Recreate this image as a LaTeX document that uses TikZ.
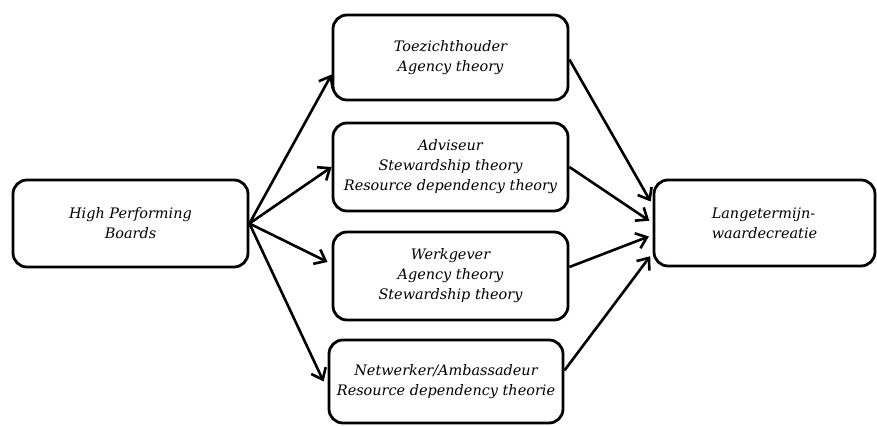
\documentclass[tikz,border=0pt]{standalone}
\usepackage{fontspec}
\setmainfont{DejaVu Serif}
\usepackage{tikz}
\usetikzlibrary{arrows.meta}
\tikzset{
  rol_n/.style = {draw=black, line width=2.8bp, rounded corners=14bp,
    align=center, inner sep=0pt, text=black,
    font=\fontsize{14.5}{20}\selectfont\itshape},% rol van het board
  doel_n/.style = {rol_n, align=left},% uitkomst
  pijl/.style = {-{Straight Barb[length=10bp,width=16bp,line width=2.6bp]},
    line width=2.6bp}
}

\begin{document}
\begin{tikzpicture}[x=1bp,y=1bp]
\useasboundingbox (0,0) rectangle (877,425);

\node [rol_n, minimum width=235bp, minimum height=87bp] (hpb) at (130.5,201.5)
  {High Performing\\Boards};

\node [rol_n, minimum width=235bp, minimum height=85bp] (toez) at (450.5,367.5)
  {Toezichthouder\\Agency theory};
\node [rol_n, minimum width=235bp, minimum height=88bp] (advi) at (450.5,258)
  {Adviseur\\Stewardship theory\\Resource dependency theory};
\node [rol_n, minimum width=235bp, minimum height=88bp] (werk) at (450.5,149)
  {Werkgever\\Agency theory\\Stewardship theory};
\node [rol_n, minimum width=234bp, minimum height=83bp] (netw) at (446,43.5)
  {Netwerker/Ambassadeur\\Resource dependency theorie};

\node [doel_n, minimum width=221bp, minimum height=86bp] (lang) at (764.5,202)
  {Langetermijn-\\waardecreatie};

\draw[pijl] (hpb.east) -- ([yshift=-17bp]toez.west);
\draw[pijl] (hpb.east) -- (advi.west);
\draw[pijl] (hpb.east) -- ([xshift=-4bp,yshift=14bp]werk.west);
\draw[pijl] (hpb.east) -- ([xshift=-4bp]netw.west);

\draw[pijl, shorten >=4bp] ([yshift=-2bp]toez.east) -- ([yshift=18bp]lang.west);
\draw[pijl, shorten >=4bp] (advi.east) -- (lang.west);
\draw[pijl, shorten >=4bp] ([yshift=9bp]werk.east) -- ([yshift=-12bp]lang.west);
\draw[pijl, shorten >=4bp] ([yshift=11bp]netw.east) -- ([yshift=-30bp]lang.west);
\end{tikzpicture}
\end{document}
